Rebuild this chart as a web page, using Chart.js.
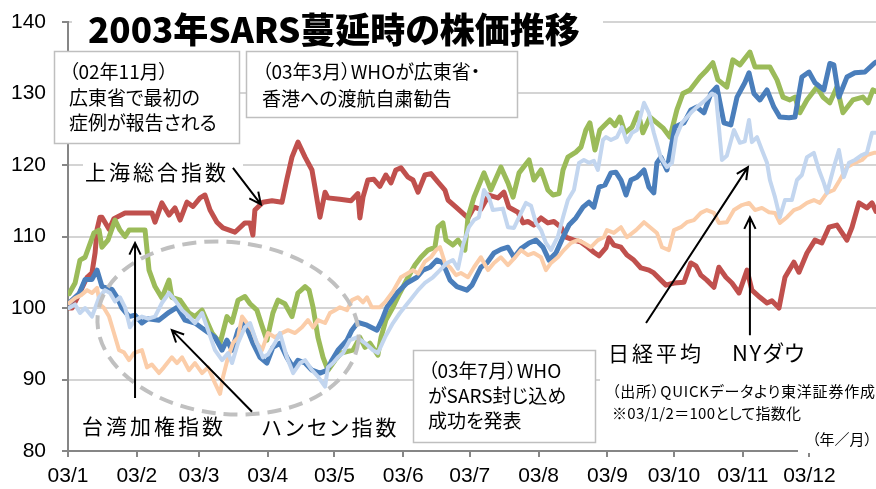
<!DOCTYPE html>
<html>
<head>
<meta charset="utf-8">
<script src="https://cdn.jsdelivr.net/npm/chart.js@4.4.0/dist/chart.umd.min.js"></script>
<style>
body{margin:0;background:#fff}
#wrap{position:relative;width:876px;height:489px;overflow:hidden}
#wrap canvas{position:absolute;left:0;top:0}
.t{position:absolute;white-space:pre;font-family:"Noto Sans CJK JP",sans-serif;color:#000;font-feature-settings:"palt"}
.box{font-size:19px}
.lbl{font-size:21px;line-height:26px;letter-spacing:3px}
.note{font-size:15px;line-height:22px}
</style>
</head>
<body>
<div id="wrap">
<canvas id="c" width="876" height="489"></canvas>
<div class="t" style="left:88px;top:8px;font-size:35px;line-height:40px;font-weight:900">2003年SARS蔓延時の株価推移</div>
<div class="t box" style="left:69px;top:58px;line-height:25.5px">（02年11月）
広東省で最初の
症例が報告される</div>
<div class="t box" style="left:262px;top:57px;line-height:27px">（03年3月）WHOが広東省・
香港への渡航自粛勧告</div>
<div class="t box" style="left:428px;top:357px;line-height:25px">（03年7月）WHO
がSARS封じ込め
成功を発表</div>
<div class="t lbl" style="left:85px;top:158px">上海総合指数</div>
<div class="t lbl" style="left:82px;top:412px">台湾加権指数</div>
<div class="t lbl" style="left:262px;top:413px">ハンセン指数</div>
<div class="t lbl" style="left:608px;top:339px">日経平均</div>
<div class="t lbl" style="left:732px;top:338px;font-size:22px;letter-spacing:1.5px">NYダウ</div>
<div class="t note" style="left:612px;top:380px;letter-spacing:0.8px">（出所）QUICKデータより東洋証券作成</div>
<div class="t note" style="left:612px;top:402px;letter-spacing:0.3px">※03/1/2＝100として指数化</div>
<div class="t note" style="left:812px;top:429px;line-height:20px">（年／月）</div>
</div>
<script>
// x values are days of 2003 (0 = Jan 1), y values are index with 03/1/2 = 100
const monthDays = [0,31,59,90,120,151,181,212,243,273,304,334];
const monthLabels = ['03/1','03/2','03/3','03/4','03/5','03/6','03/7','03/8','03/9','03/10','03/11','03/12'];

const shanghaiDays = [0.5,1.8,5.4,8.6,10.8,12.2,13.1,14.4,15.3,18.5,20.7,25.7,37.8,39.2,42.3,45.5,48.2,50.5,53.6,56.3,
  59.5,61.7,64.0,67.1,69.8,75.2,79.7,82.0,83.3,84.2,87.8,91.9,96.4,98.6,100.9,103.6,106.8,109.9,111.3,113.5,
  115.8,117.1,122.5,127.5,130.6,131.5,132.9,135.1,137.8,140.5,143.2,145.5,147.7,150.0,153.2,155.4,157.7,160.8,163.5,166.7,
  169.8,171.2,174.8,178.8,180.2,182.9,186.0,189.6,193.7,196.4,198.6,202.7,205.0,207.2,209.9,213.1,216.2,218.9,222.1,224.3,
  227.9,231.1,234.2,236.9,239.2,242.3,243.7,245.9,249.1,251.8,254.9,258.1,261.7,263.9,267.1,269.4,273.0,277.5,280.6,282.9,
  285.1,287.8,291.0,293.2,296.4,299.1,302.3,305.9,308.1,311.7,314.9,317.1,320.3,323.0,327.0,329.3,332.9,336.5,339.6,342.8,
  346.4,350.9,353.2,356.3,359.9,362.2,364];
const shanghai = [100,100,102.2,104.3,104.9,107.7,111,112.7,112.7,111,112.5,113.3,113.3,112,114.7,113,114,112.3,114.8,114.2,
  115.4,115.8,113.7,112,111.2,110.6,111.9,111.9,110.2,113.7,114.8,115,114.8,118,121.1,123.2,121.1,119.3,116.8,112.7,
  116.2,115.4,115.2,115,116,112.6,115.5,117.9,118,117,118.6,117.5,119.3,119.6,118.3,117.9,116.2,118.6,118.8,117.6,
  116.5,115.1,114.1,113,112.6,114.1,113.8,115.8,115.4,116.2,114.1,113.4,111.9,112.1,111.6,112.6,111.9,112.1,111.3,109.9,
  109.5,109.2,108.5,107.8,107.3,108.4,109.8,108.8,108.5,107.4,106.7,105.6,105.3,104.9,103.9,103.2,103.5,103.6,106.3,105.9,
  104.6,103.9,102.9,105.7,104.3,103.5,102.1,105.3,102.5,101.5,100.7,101,100,104.3,106.4,105,107.7,109.5,109.1,111.3,
  111.6,109.5,111.3,114.7,114,114.7,113.5];

const taiwanDays = [0.5,3.2,5.4,7.7,11.7,14.0,15.3,18.0,21.2,23.4,25.7,27.5,34.7,36.5,39.2,42.3,45.5,46.8,50.5,54.5,
  57.2,60.4,64.9,68.5,71.6,73.9,76.6,79.7,82.0,85.1,87.4,89.6,92.3,94.6,97.7,100.9,103.6,106.8,108.6,110.4,
  112.6,114.9,117.1,120.3,123.0,128.4,131.5,133.8,136.0,139.6,141.0,143.2,146.4,149.5,153.2,156.3,159.0,162.2,165.3,166.7,
  168.9,170.3,173.4,175.7,178.8,180.2,182.9,187.4,190.5,195.0,198.2,200.5,203.2,207.7,209.9,213.1,216.2,218.5,221.2,223.0,
  225.2,228.8,231.1,233.3,235.1,237.4,239.6,244.1,246.4,248.6,250.9,254.1,256.8,259.0,262.2,265.3,268.0,271.2,274.3,277.0,
  280.2,284.7,287.8,290.5,292.8,296.8,299.5,302.7,307.2,309.5,316.2,319.4,322.1,325.2,327.5,329.7,332.9,337.4,340.1,343.2,
  346.4,349.1,353.6,358.1,360.4,362.6,364];
const taiwan = [102,103.5,106.7,107.1,110.5,110.9,108.5,109.5,112.3,110.9,110,110.9,110.9,105.3,103,101.4,103.9,101.5,101.1,99.3,
  98.8,99.7,96.5,95.1,98.8,98,101.1,101.6,100.6,99.7,97.5,95.5,99.3,101.1,100.6,98.8,102.1,103,102.5,100.1,
  95.9,93.1,91.3,92.7,93.7,94.1,95.9,94.5,95.1,93.4,95.9,98.3,100.1,102.1,104.3,106,107.1,108.1,108.5,111.3,
  111.9,109.5,108.8,109.5,108.1,112.7,115.5,118.9,116.5,119.7,117.5,115.5,118.9,120.7,117.9,119.3,116.5,115.8,116,119.3,
  121.1,121.8,122.5,124.9,125.9,122.1,124.9,126.3,125.5,126.7,124.5,125.3,127.3,124.5,126.7,125.9,125.2,123.9,127.7,130,
  130.5,132.3,133.3,134.3,131.9,130.9,134.7,134,135.8,133.7,133.7,131.9,129.5,129.1,129.5,127.3,129.1,130.9,129.5,128.7,
  130.9,127.3,129.1,129.5,128.7,130.5,130.3];

const hangsengDays = [0.5,5.0,7.7,10.8,13.1,15.3,19.8,22.1,24.3,27.5,30.2,33.3,36.0,41.0,45.5,49.1,52.7,57.2,61.7,66.2,
  69.4,71.6,73.9,76.6,79.7,83.3,86.5,89.6,92.3,95.5,98.6,101.4,103.6,106.8,109.9,113.5,116.7,118.9,121.6,125.7,
  127.9,130.6,134.7,139.2,141.4,143.7,148.2,152.7,157.2,159.9,163.1,166.2,168.9,172.1,175.2,179.7,182.0,186.0,188.7,191.9,
  195.0,198.2,200.9,204.1,207.7,210.8,214.0,216.7,219.8,223.0,225.7,228.8,232.0,234.7,236.9,239.2,241.9,244.6,246.8,249.1,
  251.4,253.6,256.3,259.5,261.7,263.9,265.3,267.1,269.8,273.4,277.5,280.6,283.3,286.5,289.6,292.3,295.5,298.6,301.4,304.9,
  306.8,309.0,311.7,314.9,318.0,320.7,324.8,327.5,330.6,333.8,336.5,340.5,343.2,345.0,347.3,350.9,354.5,359.0,363.1,364];
const hangseng = [100.7,102,104,104,105.3,103,102.6,101.5,100,98.8,99,97.9,98.5,98.3,99.4,100.1,98.3,97.9,96.9,95.9,
  94.1,95.5,94.1,96.9,97.9,95.1,93.1,92.3,94.5,95.1,93.1,91.7,92.7,92.3,91.3,90.9,91.3,92.7,94.1,95.5,
  96.9,98,97.6,96.9,98.3,100.1,102.1,103.5,104.3,105.3,105.7,106.7,106.3,103.9,103,102.5,103.2,105.7,106.3,107.7,
  108.2,108.5,107.1,108.3,109.1,109.5,108.5,106.7,107.7,109.9,111.6,112.6,114.1,114.8,114.1,116.9,117.2,118.9,119,117.9,
  115.8,117.9,118.3,119.3,116.9,116.1,120.3,121.1,119.3,125.3,125.9,127.7,128.1,127.3,130,130.9,125.9,125.6,129.5,131.5,
  132.9,130,129.1,130.5,128.1,126.7,126.6,126.7,132.3,133,131.5,130.5,134.2,134,129.5,132.3,132.9,133,134.2,134.4];

const nikkeiDays = [0.5,3.2,5.4,7.7,10.8,14.0,16.7,18.9,21.2,23.4,25.7,27.9,30.2,33.3,36.0,39.2,42.3,45.5,48.2,51.4,
  54.5,57.2,60.4,63.1,66.2,69.4,72.1,73.9,76.6,79.7,82.0,85.1,87.8,90.1,93.2,95.5,98.6,101.4,104.5,106.8,
  109.9,112.6,115.8,117.1,119.4,121.6,123.9,127.0,130.2,133.8,137.4,139.6,142.8,146.4,149.5,154.1,157.7,160.8,164.4,167.6,
  170.7,173.4,175.7,177.9,180.6,182.9,185.1,187.4,189.6,191.4,195.9,198.2,200.9,204.1,206.3,208.6,210.8,213.1,215.3,217.6,
  220.7,223.0,225.2,227.9,230.2,232.4,234.7,236.9,238.7,241.0,242.3,244.6,247.3,249.5,251.8,254.1,256.3,259.5,261.7,263.9,
  267.1,269.8,272.1,273.9,276.6,280.6,283.3,286.5,290.1,291.9,294.6,296.8,300.0,302.7,304.9,306.8,308.1,310.4,312.6,314.9,
  316.2,318.5,320.7,323.0,326.1,328.4,330.6,332.9,336.0,338.3,340.5,341.9,345.0,347.3,349.5,351.8,354.5,357.7,359.9,362.2,364];
const nikkei = [100,100.5,99.3,100,98.8,101.5,102.5,102.1,100.9,101.5,100.1,97.3,98.3,98.8,98.5,98.8,100.7,102.1,101.1,99.7,
  98.8,97.9,99.3,96.9,94.1,92.7,93.7,92.3,95.1,97.3,97.9,95.1,93.1,93.5,95.1,96.5,93.1,90.9,92.3,92.7,
  91.3,90.4,89,91.7,92.3,93.1,93.7,95.5,95.9,95.1,94.1,93.7,95.9,97.9,99.3,101.1,102.5,103.5,104.3,105.3,
  106.3,106.7,105.5,108.8,111.3,112.3,112.7,116.5,115.5,113.7,113.9,111.3,111.2,113.3,114.7,114.3,111.9,110.9,109.1,108.1,
  110,112.7,115.1,116.5,120.3,120.7,120.3,120.6,119.3,123.5,123.9,123.5,123.9,125.3,123.2,124.5,124.9,128.7,127.3,124.5,
  121,119.7,120.3,123.9,125.9,127.3,128.1,128.9,130,129.7,120.7,121.3,124.9,123.1,123.3,126.3,123.2,123.9,122.1,120.3,
  117.9,115.5,112.7,115.1,115.1,117.9,118.6,121.1,121.7,119.3,117.5,116.1,119.7,122.1,118.3,120.3,120.7,121.4,121.7,124.5,124.5];

const nydowDays = [0.5,3.2,5.9,8.6,10.8,13.1,14.4,16.2,18.5,20.7,23.0,25.2,27.5,29.7,33.3,35.6,37.8,41.0,43.2,46.8,
  49.1,51.4,54.5,57.2,60.4,63.1,66.2,68.5,69.8,72.1,74.3,76.6,78.4,80.6,82.9,85.1,87.4,90.1,93.2,96.4,
  99.1,102.3,105.4,108.1,110.4,112.6,115.8,118.0,120.3,122.5,125.7,127.9,130.6,132.9,134.7,136.9,140.5,142.8,146.4,150.0,
  152.7,155.4,157.7,160.8,163.5,165.8,167.6,169.8,172.1,174.8,177.0,180.2,182.9,186.0,189.2,191.9,195.0,198.2,200.9,204.1,
  207.2,209.9,213.1,215.3,217.6,220.7,223.4,226.6,229.7,232.4,235.6,238.7,241.4,242.8,245.9,249.1,251.8,255.9,259.5,262.2,
  265.3,267.6,270.7,273.0,276.1,278.8,282.0,285.1,287.8,291.0,293.2,296.8,300.0,303.6,306.8,309.5,312.6,315.8,318.5,320.7,
  323.9,327.0,329.7,332.9,336.0,338.7,341.9,345.0,347.7,350.9,354.5,357.7,359.9,363.1,364];
const nydow = [100.7,101.4,101.8,102.5,102.1,102.8,100.5,100,98.8,96.5,94.1,93.8,92.7,93.7,94.1,91.7,92.1,90.9,91.7,93.1,
  92.3,93.1,91.3,92.3,90.9,91.7,89.5,88,90.3,93.1,95.1,95.9,98.8,97.9,96.9,95.1,94.1,96.5,95.9,96.5,
  96.9,96.5,97.3,98.3,97.3,98.3,97.9,99.3,99.7,100.1,99.7,101.1,101.5,100.8,101.5,100.1,100.1,100.8,102.3,104.3,
  104.8,105.3,104.8,106.5,107.1,108.1,108.5,106.3,105.7,104.6,104.9,104.3,105.7,107.1,105.3,106.3,107.1,106,106.9,108.1,
  107.4,107.7,107.1,105.3,106.3,107.1,108.1,109.1,109.5,109.1,108.5,109.5,109.9,110.9,110.5,111.3,109.9,110.9,112,111.3,
  110.5,108.5,108.1,110.9,111.3,112,112.3,113.3,113.7,113.3,111.9,112,113.7,114.4,114.7,113.7,114,113.4,113.3,111.9,
  112.7,113.7,114,114.7,115.1,114.7,116.1,116.5,117.9,119.7,120.3,120.7,121.4,121.7,121.7];

function pts(ds, vals){ return ds.map((d,i)=>({x:d,y:vals[i]})) }

// annotation arrows, in data units (day, index)
const arrows = [
  {from:[74.3,119.6], to:[86.9,114.5]},
  {from:[30.2,87.4],  to:[30.2,109.1]},
  {from:[82.9,85.5],  to:[46.8,96.9]},
  {from:[260.4,97.9], to:[306.3,119.7]},
  {from:[307.2,96.2], to:[307.2,112.7]}
];

const overlay = {
  id: 'overlay',
  beforeDatasetsDraw(chart){
    const c = chart.ctx;
    c.save();
    c.fillStyle = '#fff';
    // white areas behind title, labels, notes
    c.fillRect(72,4,531,36);
    c.fillRect(83,160,160,26);
    c.fillRect(600,370,276,56);
    c.fillRect(798,425,78,28);
    // framed text boxes
    c.strokeStyle = '#bfbfbf';
    c.lineWidth = 1.5;
    [[54.5,51.5,185,92],[246.5,51.5,271,66],[413.5,350.5,182,92]].forEach(r=>{
      c.fillRect(r[0],r[1],r[2],r[3]);
      c.strokeRect(r[0],r[1],r[2],r[3]);
    });
    c.restore();
  },
  afterDraw(chart){
    const c = chart.ctx, xs = chart.scales.x, ys = chart.scales.y;
    c.save();
    // dashed ellipse round the Feb-May dip
    c.strokeStyle = '#c0c0c0';
    c.lineWidth = 4;
    c.setLineDash([14,8]);
    c.beginPath();
    c.ellipse(xs.getPixelForValue(72.1), ys.getPixelForValue(97.2), 131, 86, 0.1, 0, Math.PI*2);
    c.stroke();
    c.setLineDash([]);
    c.strokeStyle = '#000';
    c.lineWidth = 2;
    arrows.forEach(a=>{
      const x1 = xs.getPixelForValue(a.from[0]), y1 = ys.getPixelForValue(a.from[1]);
      const x2 = xs.getPixelForValue(a.to[0]),   y2 = ys.getPixelForValue(a.to[1]);
      const ang = Math.atan2(y2-y1, x2-x1);
      c.beginPath();
      c.moveTo(x1,y1); c.lineTo(x2,y2);
      c.moveTo(x2 - 13*Math.cos(ang-0.45), y2 - 13*Math.sin(ang-0.45));
      c.lineTo(x2,y2);
      c.lineTo(x2 - 13*Math.cos(ang+0.45), y2 - 13*Math.sin(ang+0.45));
      c.stroke();
    });
    c.restore();
  }
};

const tickFont = {family:'"Liberation Sans", Arial, sans-serif', size:21};

new Chart(document.getElementById('c').getContext('2d'), {
  type: 'line',
  data: {
    datasets: [
      {label:'日経平均', data:pts(nikkeiDays, nikkei), borderColor:'#c3d6ef', borderWidth:4},
      {label:'NYダウ', data:pts(nydowDays, nydow), borderColor:'#fbcda9', borderWidth:4},
      {label:'ハンセン指数', data:pts(hangsengDays, hangseng), borderColor:'#4a7ebb', borderWidth:5},
      {label:'台湾加権指数', data:pts(taiwanDays, taiwan), borderColor:'#9bbb59', borderWidth:5},
      {label:'上海総合指数', data:pts(shanghaiDays, shanghai), borderColor:'#c0504d', borderWidth:5}
    ]
  },
  options: {
    responsive: false,
    animation: false,
    layout: {padding:{top:22, right:0, left:0, bottom:0}},
    elements: {
      point: {radius:0},
      line: {tension:0, borderJoinStyle:'round', borderCapStyle:'round', fill:false}
    },
    plugins: {legend:{display:false}, tooltip:{enabled:false}},
    scales: {
      x: {
        type: 'linear', min: 0, max: 364,
        afterBuildTicks: s => { s.ticks = monthDays.map(v => ({value:v})) },
        afterFit: s => { s.height = 38; s.paddingLeft = 0; s.paddingRight = 0 },
        ticks: {
          callback: v => monthLabels[monthDays.indexOf(v)],
          font: tickFont, color:'#000', padding:7, maxRotation:0, autoSkip:false
        },
        grid: {drawOnChartArea:false, tickLength:6, tickColor:'#868686', lineWidth:2},
        border: {color:'#868686', width:2}
      },
      y: {
        min: 80, max: 140,
        afterFit: s => { s.width = 68; s.paddingTop = 0; s.paddingBottom = 0 },
        ticks: {stepSize:10, font: tickFont, color:'#000', padding:16},
        grid: {color:'#d4d4d4', lineWidth:2, tickColor:'#868686', tickLength:6},
        border: {color:'#868686', width:2}
      }
    }
  },
  plugins: [overlay]
});
</script>
</body>
</html>
